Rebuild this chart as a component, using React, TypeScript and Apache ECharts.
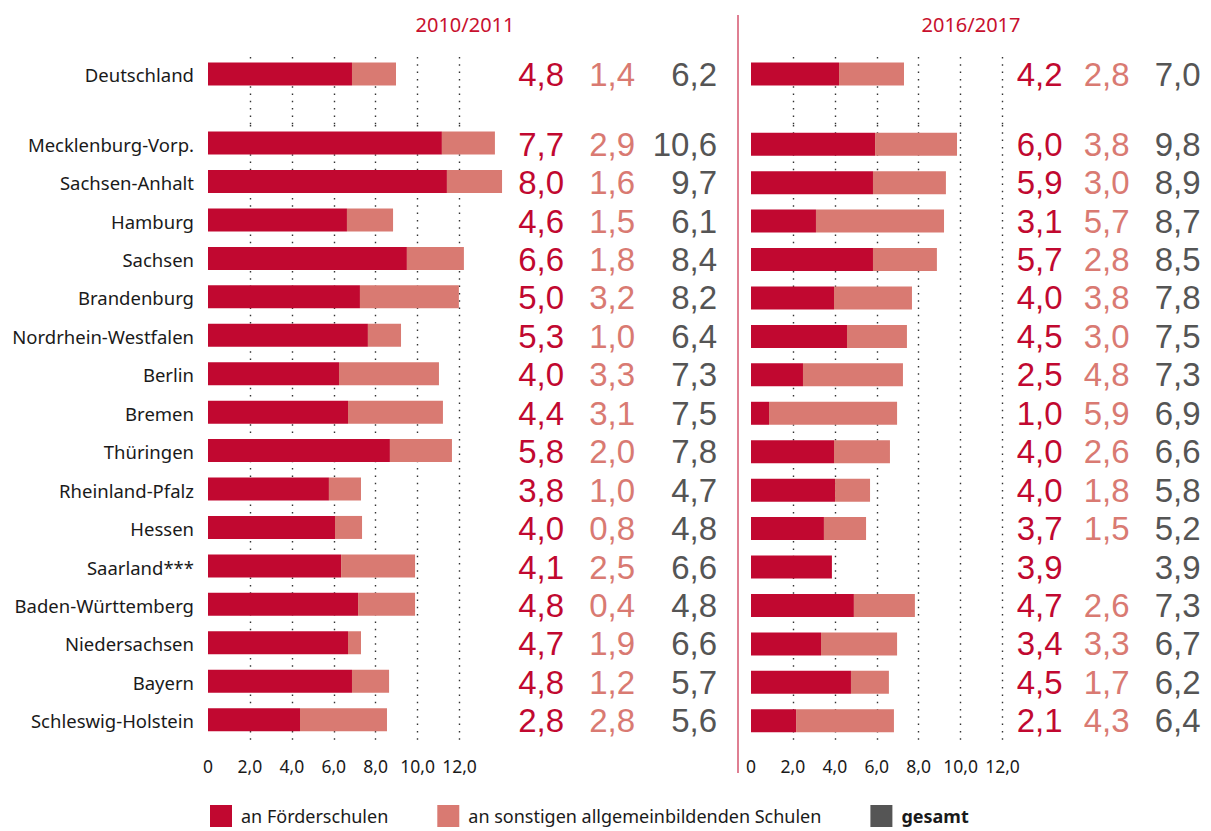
import React, { useEffect, useRef } from "react";
import * as echarts from "echarts";

// ---------- data ----------
const topCategories = ["Deutschland", ""];
const states = [
  "Mecklenburg-Vorp.",
  "Sachsen-Anhalt",
  "Hamburg",
  "Sachsen",
  "Brandenburg",
  "Nordrhein-Westfalen",
  "Berlin",
  "Bremen",
  "Thüringen",
  "Rheinland-Pfalz",
  "Hessen",
  "Saarland***",
  "Baden-Württemberg",
  "Niedersachsen",
  "Bayern",
  "Schleswig-Holstein",
];
const tickValues = [0, 2, 4, 6, 8, 10, 12];

// bar lengths as drawn (axis units)
const germanyBars2010 = [6.87, 2.1];
const foerderBars2010 = [11.16, 11.4, 6.63, 9.49, 7.25, 7.63, 6.25, 6.68, 8.68, 5.77, 6.06, 6.35, 7.16, 6.68, 6.87, 4.39];
const sonstigeBars2010 = [2.53, 2.63, 2.2, 2.72, 4.72, 1.58, 4.77, 4.53, 2.96, 1.53, 1.29, 3.53, 2.72, 0.62, 1.77, 4.15];

const germanyBars2016 = [4.2, 3.1];
const foerderBars2016 = [5.92, 5.82, 3.1, 5.82, 3.96, 4.58, 2.48, 0.86, 3.96, 4.01, 3.48, 3.86, 4.91, 3.34, 4.77, 2.15];
const sonstigeBars2016 = [3.91, 3.48, 6.11, 3.05, 3.72, 2.86, 4.77, 6.11, 2.67, 1.67, 2.01, 0, 2.91, 3.63, 1.81, 4.67];

// printed numbers
const germanyLabels2010 = [4.8, 1.4, 6.2];
const foerder2010 = [7.7, 8.0, 4.6, 6.6, 5.0, 5.3, 4.0, 4.4, 5.8, 3.8, 4.0, 4.1, 4.8, 4.7, 4.8, 2.8];
const sonstige2010 = [2.9, 1.6, 1.5, 1.8, 3.2, 1.0, 3.3, 3.1, 2.0, 1.0, 0.8, 2.5, 0.4, 1.9, 1.2, 2.8];
const gesamt2010 = [10.6, 9.7, 6.1, 8.4, 8.2, 6.4, 7.3, 7.5, 7.8, 4.7, 4.8, 6.6, 4.8, 6.6, 5.7, 5.6];

const germanyLabels2016 = [4.2, 2.8, 7.0];
const foerder2016 = [6.0, 5.9, 3.1, 5.7, 4.0, 4.5, 2.5, 1.0, 4.0, 4.0, 3.7, 3.9, 4.7, 3.4, 4.5, 2.1];
const sonstige2016 = [3.8, 3.0, 5.7, 2.8, 3.8, 3.0, 4.8, 5.9, 2.6, 1.8, 1.5, null, 2.6, 3.3, 1.7, 4.3];
const gesamt2016 = [9.8, 8.9, 8.7, 8.5, 7.8, 7.5, 7.3, 6.9, 6.6, 5.8, 5.2, 3.9, 7.3, 6.7, 6.2, 6.4];

const periods = ["2010/2011", "2016/2017"];
const seriesNames = ["an Förderschulen", "an sonstigen allgemeinbildenden Schulen", "gesamt"];

// ---------- styles ----------
const DARK = "#C10830";
const LIGHT = "#D97A72";
const GREY = "#555555";
const FONT = "Noto Sans";
const NUM_FONT = "Liberation Sans";

const fmt = (v: number | null | undefined) => (v == null ? "" : v.toFixed(1).replace(".", ","));

function buildOption() {
  const panels = [
    {
      left: 208,
      title: periods[0],
      titleX: 460,
      gBars: germanyBars2010,
      gLabels: germanyLabels2010,
      fBars: foerderBars2010,
      sBars: sonstigeBars2010,
      cols: [foerder2010, sonstige2010, gesamt2010],
      margins: [104.5, 175.5, 257.5],
      showCats: true,
    },
    {
      left: 751,
      title: periods[1],
      titleX: 966,
      gBars: germanyBars2016,
      gLabels: germanyLabels2016,
      fBars: foerderBars2016,
      sBars: sonstigeBars2016,
      cols: [foerder2016, sonstige2016, gesamt2016],
      margins: [60, 127, 198],
      showCats: false,
    },
  ];
  const colColors = [DARK, LIGHT, GREY];
  const gridW = 251.5;
  const grids: any[] = [];
  const xAxes: any[] = [];
  const yAxes: any[] = [];
  const series: any[] = [];
  const titles: any[] = [];

  const splitLine = {
    show: true,
    showMinLine: false,
    lineStyle: { type: [1.5, 5.8], width: 1.4, color: "#333" },
  };
  const hiddenAxisParts = { axisLine: { show: false }, axisTick: { show: false }, splitLine: { show: false } };

  panels.forEach((p, pi) => {
    const gTop = grids.length;
    grids.push({ left: p.left, top: 57, width: gridW, height: 68 });
    grids.push({ left: p.left, top: 125, width: gridW, height: 615 });
    [0, 1].forEach((k) => {
      xAxes.push({
        gridIndex: gTop + k,
        type: "value",
        min: 0,
        max: 12,
        interval: 2,
        axisLine: { show: false },
        axisTick: { show: false },
        splitLine,
        axisLabel: {
          show: k === 1,
          margin: 17,
          fontSize: 17.5,
          color: "#1a1a1a",
          fontFamily: FONT,
          formatter: (v: number) => (v === tickValues[0] ? "0" : v.toFixed(1).replace(".", ",")),
        },
      });
    });

    // category axes (left) for both grids
    const catAxisGermany = yAxes.length;
    yAxes.push({
      gridIndex: gTop,
      type: "category",
      data: topCategories,
      inverse: true,
      ...hiddenAxisParts,
      axisLabel: { show: p.showCats, interval: 0, margin: 14, fontSize: 18.5, color: "#1a1a1a", fontFamily: FONT },
    });
    const catAxisStates = yAxes.length;
    yAxes.push({
      gridIndex: gTop + 1,
      type: "category",
      data: states,
      inverse: true,
      ...hiddenAxisParts,
      axisLabel: { show: p.showCats, interval: 0, margin: 14, fontSize: 18.5, color: "#1a1a1a", fontFamily: FONT },
    });

    // number columns as right-side category axes
    [0, 1, 2].forEach((c) => {
      const numLabel = {
        interval: 0,
        hideOverlap: false,
        margin: p.margins[c],
        align: "right",
        fontSize: 33,
        lineHeight: 34,
        color: colColors[c],
        fontFamily: NUM_FONT,
      };
      yAxes.push({
        gridIndex: gTop,
        type: "category",
        position: "right",
        data: topCategories,
        inverse: true,
        ...hiddenAxisParts,
        axisLabel: {
          ...numLabel,
          formatter: (_v: string, i: number) => (i === 0 ? fmt(p.gLabels[c]) : ""),
        },
      });
      yAxes.push({
        gridIndex: gTop + 1,
        type: "category",
        position: "right",
        data: states,
        inverse: true,
        ...hiddenAxisParts,
        axisLabel: {
          ...numLabel,
          formatter: (_v: string, i: number) => fmt(p.cols[c][i]),
        },
      });
    });

    const barBase = { type: "bar", barWidth: 23, clip: false };
    series.push({
      ...barBase,
      name: seriesNames[0],
      stack: "g" + pi,
      xAxisIndex: gTop,
      yAxisIndex: catAxisGermany,
      itemStyle: { color: DARK },
      data: [p.gBars[0], null],
    });
    series.push({
      ...barBase,
      name: seriesNames[1],
      stack: "g" + pi,
      xAxisIndex: gTop,
      yAxisIndex: catAxisGermany,
      itemStyle: { color: LIGHT },
      data: [p.gBars[1], null],
    });
    series.push({
      ...barBase,
      name: seriesNames[0],
      stack: "s" + pi,
      xAxisIndex: gTop + 1,
      yAxisIndex: catAxisStates,
      itemStyle: { color: DARK },
      data: p.fBars,
    });
    series.push({
      ...barBase,
      name: seriesNames[1],
      stack: "s" + pi,
      xAxisIndex: gTop + 1,
      yAxisIndex: catAxisStates,
      itemStyle: { color: LIGHT },
      data: p.sBars,
    });

    titles.push({
      text: p.title,
      left: p.titleX,
      top: 9,
      textAlign: "center",
      textStyle: { fontSize: 20, fontWeight: "normal", color: "#C8102E", fontFamily: FONT },
    });
  });

  // legend-only series for "gesamt"
  series.push({
    type: "bar",
    name: seriesNames[2],
    xAxisIndex: 1,
    yAxisIndex: 1,
    itemStyle: { color: GREY },
    data: [],
  });

  return {
    animation: false,
    textStyle: { fontFamily: FONT },
    title: titles,
    legend: {
      left: 210,
      top: 805,
      padding: 0,
      itemWidth: 22,
      itemHeight: 22,
      itemGap: 49,
      icon: "rect",
      selectedMode: false,
      textStyle: { fontSize: 18, color: "#1a1a1a", fontFamily: FONT, padding: [0, 0, 0, 4] },
      data: [
        { name: seriesNames[0] },
        { name: seriesNames[1] },
        { name: seriesNames[2], textStyle: { fontWeight: "bold" } },
      ],
    },
    grid: grids,
    xAxis: xAxes,
    yAxis: yAxes,
    series,
    graphic: [
      {
        type: "line",
        shape: { x1: 738, y1: 15, x2: 738, y2: 773 },
        style: { stroke: "#D4546E", lineWidth: 1.5 },
      },
    ],
  };
}

export default function App() {
  const ref = useRef<HTMLDivElement>(null);
  useEffect(() => {
    if (!ref.current) return;
    const chart = echarts.init(ref.current, undefined, { renderer: "svg" });
    chart.setOption(buildOption() as any);
    return () => chart.dispose();
  }, []);
  return (
    <div
      ref={ref}
      style={{ position: "fixed", left: 0, top: 0, width: 1211, height: 831, background: "#fff" }}
    />
  );
}
